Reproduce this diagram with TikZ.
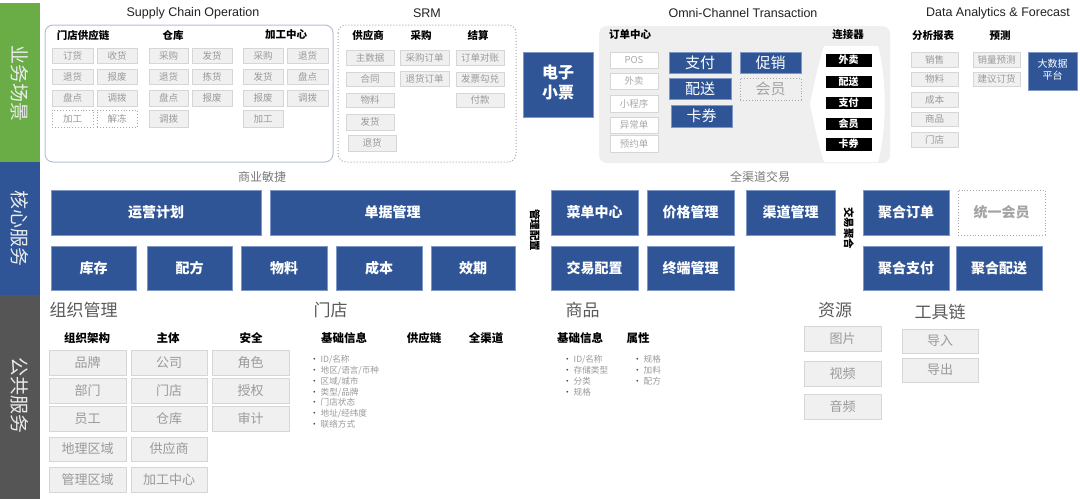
\documentclass[tikz,border=0pt]{standalone}
\usepackage{fontspec}
\setmainfont{Noto Sans CJK SC}
\newfontfamily\enfont{Liberation Sans}
\definecolor{bandgreen}{HTML}{6AAC46}
\definecolor{mainblue}{HTML}{2F5597}
\definecolor{blueedge}{HTML}{7E97C6}
\definecolor{bandgray}{HTML}{555555}
\definecolor{boxfill}{HTML}{F0F0F0}
\definecolor{boxline}{HTML}{D6D6D6}
\definecolor{boxtext}{HTML}{9A9A9A}
\definecolor{dotline}{HTML}{A8A8A8}
\definecolor{scline}{HTML}{B3C0D6}
\definecolor{omnifill}{HTML}{EFEFEF}
\definecolor{titletext}{HTML}{222222}
\definecolor{secgray}{HTML}{5A5A5A}
\newcommand\mybox[7]{%
  \pgfmathsetmacro\bw{#5-#3}\pgfmathsetmacro\bh{#6-#4}%
  \node[#1, minimum width=\bw pt, minimum height=\bh pt, inner sep=0pt] (#2) at ({(#3+#5)/2},{(#4+#6)/2}) {#7};}
\newcommand\bul{{\color{black!70}•}\ }
\begin{document}
\begin{tikzpicture}[x=1pt,y=-1pt,
  gbox/.style={draw=boxline, fill=boxfill, text=boxtext, line width=0.9pt, font=\fontsize{9.5}{10}\selectfont},
  gdot/.style={gbox, fill=white, draw=dotline, dotted},
  wbox/.style={gbox, fill=white, text=boxtext!85},
  pbox/.style={gbox, font=\fontsize{13}{13}\selectfont},
  bbox/.style={draw=blueedge, fill=mainblue, text=white, line width=0.8pt, font=\bfseries\fontsize{14}{14}\selectfont},
  obox/.style={bbox, font=\fontsize{15}{15}\selectfont},
  bdot/.style={draw=dotline, dotted, line width=0.9pt, text=boxtext!90, font=\bfseries\fontsize{14}{14}\selectfont},
  kbox/.style={fill=black, draw=white, text=white, font=\bfseries\fontsize{10}{10}\selectfont},
  hdr/.style={text=black, font=\bfseries\fontsize{10.5}{11}\selectfont},
  hdrb/.style={text=black, font=\bfseries\fontsize{11.5}{12}\selectfont},
  ttl/.style={text=titletext, font=\enfont\fontsize{12.5}{13}\selectfont},
  sec/.style={text=secgray, font=\fontsize{17}{17}\selectfont},
  band/.style={text=white!85!gray, rotate=-90, font=\fontsize{19}{19}\selectfont},
  vlab/.style={text=black, rotate=-90, font=\bfseries\fontsize{10.5}{11}\selectfont},
  blist/.style={text=boxtext, align=left, anchor=north west, inner sep=0pt, font=\fontsize{8.6}{10.7}\selectfont},
  sub/.style={text=secgray!80, font=\fontsize{12}{12}\selectfont}
]
\useasboundingbox (0,0) rectangle (1080,499);
\fill[white] (0,0) rectangle (1080,499);
% left bands
\fill[bandgreen] (0,3) rectangle (40,162);
\fill[mainblue] (0,162) rectangle (40,295);
\fill[bandgray] (0,295) rectangle (40,499);
\node[band] (b1) at (20,83) {业务场景};
\node[band] (b2) at (20,228) {核心服务};
\node[band] (b3) at (20,395) {公共服务};

% ---------- Supply Chain Operation ----------
\node[ttl] (t1) at (193,13) {Supply Chain Operation};
\draw[scline, line width=1pt, rounded corners=8pt] (45,25) rectangle (333,162);
\node[hdr] (h11) at (83,35) {门店供应链};
\node[hdr] (h12) at (173,35) {仓库};
\node[hdr] (h13) at (286,35) {加工中心};
\mybox{gbox}{a11}{52}{48}{93}{63}{订货}
\mybox{gbox}{a12}{97}{48}{137}{63}{收货}
\mybox{gbox}{a21}{52}{69}{93}{84}{退货}
\mybox{gbox}{a22}{97}{69}{137}{84}{报废}
\mybox{gbox}{a31}{52}{90}{93}{106}{盘点}
\mybox{gbox}{a32}{97}{90}{137}{106}{调拨}
\mybox{gdot}{a41}{52}{110}{93}{127}{加工}
\mybox{gdot}{a42}{97}{110}{137}{127}{解冻}
\mybox{gbox}{w11}{149}{48}{188}{63}{采购}
\mybox{gbox}{w12}{192}{48}{232}{63}{发货}
\mybox{gbox}{w21}{149}{69}{188}{84}{退货}
\mybox{gbox}{w22}{192}{69}{232}{84}{拣货}
\mybox{gbox}{w31}{149}{90}{188}{106}{盘点}
\mybox{gbox}{w32}{192}{90}{232}{106}{报废}
\mybox{gbox}{w41}{149}{110}{188}{127}{调拨}
\mybox{gbox}{p11}{243}{48}{283}{63}{采购}
\mybox{gbox}{p12}{287}{48}{328}{63}{退货}
\mybox{gbox}{p21}{243}{69}{283}{84}{发货}
\mybox{gbox}{p22}{287}{69}{328}{84}{盘点}
\mybox{gbox}{p31}{243}{90}{283}{106}{报废}
\mybox{gbox}{p32}{287}{90}{328}{106}{调拨}
\mybox{gbox}{p41}{243}{110}{283}{127}{加工}

% ---------- SRM ----------
\node[ttl] (t2) at (427,13) {SRM};
\draw[dotline, dotted, line width=1pt, rounded corners=8pt] (338,25) rectangle (516,162);
\node[hdr] (h21) at (368,35) {供应商};
\node[hdr] (h22) at (421,35) {采购};
\node[hdr] (h23) at (478,35) {结算};
\mybox{gbox}{s1}{346}{50}{394}{65}{主数据}
\mybox{gbox}{s2}{346}{72}{394}{86}{合同}
\mybox{gbox}{s3}{346}{93}{394}{107}{物料}
\mybox{gbox}{s4}{346}{114}{394}{130}{发货}
\mybox{gbox}{s5}{348}{135}{396}{151}{退货}
\mybox{gbox}{s6}{400}{50}{449}{65}{采购订单}
\mybox{gbox}{s7}{400}{71}{449}{86}{退货订单}
\mybox{gbox}{s8}{456}{50}{504}{65}{订单对账}
\mybox{gbox}{s9}{456}{72}{504}{86}{发票勾兑}
\mybox{gbox}{s10}{456}{93}{504}{107}{付款}

% ---------- E-receipt ----------
\mybox{bbox}{ep}{523}{52}{593}{117}{\fontsize{16}{19}\selectfont\begin{tabular}{@{}c@{}}电子\\小票\end{tabular}}

% ---------- Omni-Channel ----------
\node[ttl] (t3) at (743,13) {Omni-Channel Transaction};
\fill[omnifill, rounded corners=8pt] (599,26) rectangle (890,163);
\fill[white] (824,46) .. controls (818,66) .. (810,104) .. controls (818,142) .. (824,162) -- (878,162) .. controls (887,128) and (887,80) .. (878,46) -- cycle;
\node[hdr] (h31) at (630,35) {订单中心};
\node[hdr] (h32) at (848,35) {连接器};
\mybox{wbox}{o1}{610}{52}{658}{68}{POS}
\mybox{wbox}{o2}{610}{73}{658}{89}{外卖}
\mybox{wbox}{o3}{610}{95}{658}{112}{小程序}
\mybox{wbox}{o4}{610}{117}{658}{133}{异常单}
\mybox{wbox}{o5}{610}{135}{658}{152}{预约单}
\mybox{obox}{o6}{669}{52}{731}{73}{支付}
\mybox{obox}{o7}{669}{78}{731}{99}{配送}
\mybox{obox}{o8}{671}{105}{732}{127}{卡券}
\mybox{obox}{o9}{740}{52}{801}{73}{促销}
\mybox{bdot}{o10}{740}{78}{801}{100}{\mdseries\fontsize{15}{15}\selectfont 会员}
\mybox{kbox}{k1}{825}{53}{872}{67}{外卖}
\mybox{kbox}{k2}{825}{75}{872}{88}{配送}
\mybox{kbox}{k3}{825}{96}{872}{109}{支付}
\mybox{kbox}{k4}{825}{117}{872}{130}{会员}
\mybox{kbox}{k5}{825}{137}{872}{151}{卡券}

% ---------- Data Analytics ----------
\node[ttl] (t4) at (998,13) {Data Analytics \& Forecast};
\node[hdr] (h41) at (933,36) {分析报表};
\node[hdr] (h42) at (1000,36) {预测};
\mybox{gbox}{d1}{911}{52}{958}{67}{销售}
\mybox{gbox}{d2}{911}{72}{958}{86}{物料}
\mybox{gbox}{d3}{911}{92}{958}{107}{成本}
\mybox{gbox}{d4}{911}{112}{958}{126}{商品}
\mybox{gbox}{d5}{911}{132}{958}{147}{门店}
\mybox{gbox}{d6}{973}{52}{1020}{67}{销量预测}
\mybox{gbox}{d7}{973}{72}{1020}{86}{建议订货}
\mybox{bbox}{d8}{1028}{52}{1077}{90}{\mdseries\fontsize{10}{12}\selectfont\begin{tabular}{@{}c@{}}大数据\\平台\end{tabular}}

% ---------- Core services ----------
\node[sub] (c0) at (262,177) {商业敏捷};
\mybox{bbox}{c1}{51}{190}{261}{235}{运营计划}
\mybox{bbox}{c2}{270}{190}{515}{235}{单据管理}
\mybox{bbox}{c3}{51}{246}{136}{290}{库存}
\mybox{bbox}{c4}{147}{246}{232}{290}{配方}
\mybox{bbox}{c5}{241}{246}{327}{290}{物料}
\mybox{bbox}{c6}{336}{246}{422}{290}{成本}
\mybox{bbox}{c7}{431}{246}{515}{290}{效期}
\node[vlab] (v1) at (535,230) {管理配置};
\node[sub] (c8) at (760,177) {全渠道交易};
\mybox{bbox}{c9}{551}{190}{638}{235}{菜单中心}
\mybox{bbox}{c10}{647}{190}{734}{235}{价格管理}
\mybox{bbox}{c11}{746}{190}{835}{235}{渠道管理}
\mybox{bbox}{c12}{551}{246}{638}{290}{交易配置}
\mybox{bbox}{c13}{647}{246}{734}{290}{终端管理}
\node[vlab] (v2) at (849,228) {交易聚合};
\mybox{bbox}{c14}{863}{190}{949}{235}{聚合订单}
\mybox{bdot}{c15}{958}{190}{1045}{235}{统一会员}
\mybox{bbox}{c16}{863}{246}{949}{290}{聚合支付}
\mybox{bbox}{c17}{956}{246}{1042}{290}{聚合配送}

% ---------- Public services ----------
\node[sec, anchor=west] (g0) at (46,310) {组织管理};
\node[hdrb] (g1) at (87,338) {组织架构};
\node[hdrb] (g2) at (168,338) {主体};
\node[hdrb] (g3) at (251,338) {安全};
\mybox{pbox}{q1}{49}{350}{126}{375}{品牌}
\mybox{pbox}{q2}{49}{378}{126}{403}{部门}
\mybox{pbox}{q3}{49}{406}{126}{431}{员工}
\mybox{pbox}{q4}{49}{437}{126}{461}{地理区域}
\mybox{pbox}{q5}{49}{467}{126}{492}{管理区域}
\mybox{pbox}{q6}{131}{350}{207}{375}{公司}
\mybox{pbox}{q7}{131}{378}{207}{403}{门店}
\mybox{pbox}{q8}{131}{406}{207}{431}{仓库}
\mybox{pbox}{q9}{131}{437}{207}{461}{供应商}
\mybox{pbox}{q10}{131}{467}{207}{492}{加工中心}
\mybox{pbox}{q11}{212}{350}{289}{375}{角色}
\mybox{pbox}{q12}{212}{378}{289}{403}{授权}
\mybox{pbox}{q13}{212}{406}{289}{431}{审计}

\node[sec, anchor=west] (m0) at (310,310) {门店};
\node[hdrb] (m1) at (344,338) {基础信息};
\node[hdrb] (m2) at (424,338) {供应链};
\node[hdrb] (m3) at (486,338) {全渠道};
\node[blist] (m4) at (310,355.5) {\bul ID/名称\\\bul 地区/语言/币种\\\bul 区域/城市\\\bul 类型/品牌\\\bul 门店状态\\\bul 地址/经纬度\\\bul 联络方式};

\node[sec, anchor=west] (n0) at (562,310) {商品};
\node[hdrb] (n1) at (580,338) {基础信息};
\node[hdrb] (n2) at (638,338) {属性};
\node[blist] (n3) at (563,355.5) {\bul ID/名称\\\bul 存储类型\\\bul 分类\\\bul 规格};
\node[blist] (n4) at (633,355.5) {\bul 规格\\\bul 加料\\\bul 配方};

\node[sec] (r0) at (835,310) {资源};
\mybox{pbox}{r1}{804}{326}{881}{351}{图片}
\mybox{pbox}{r2}{804}{361}{881}{386}{视频}
\mybox{pbox}{r3}{804}{394}{881}{419}{音频}
\node[sec] (u0) at (940,312) {工具链};
\mybox{pbox}{u1}{902}{329}{978}{353}{导入}
\mybox{pbox}{u2}{902}{358}{978}{382}{导出}
\end{tikzpicture}
\end{document}
